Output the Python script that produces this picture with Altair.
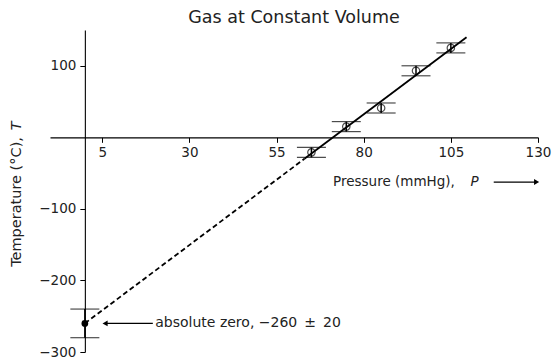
import altair as alt
import pandas as pd

# ---- data ----
pressure = [65, 75, 85, 95, 105]
temperature = [-21, 15, 41, 93, 125]
temp_err = [7, 7, 7, 7, 7]

zero_p = [0]
zero_t = [-260]
zero_err = [20]

fit_solid_p = [63, 109.5]
fit_solid_t = [-30, 140]
fit_dash_p = [0, 63]
fit_dash_t = [-260, -30]

x_ticks = [5, 30, 55, 80, 105, 130]
y_ticks = [-300, -200, -100, 100]
x_domain = [-10, 130]
y_domain = [-300, 150]

# annotation anchors (data coordinates)
zero_label_p = [20.2]
zero_arrow_p = [5.8, 19.5]
xlabel_p = [71.2, 110.6]
xlabel_t = [-62.5]
xarrow_p = [117.3, 129.6]
ylabel_p = [-19.6]
ylabel_t = [-181, 10]

W, H = 488, 322
FONT = "DejaVu Sans"

x0_px = (0 - x_domain[0]) / (x_domain[1] - x_domain[0]) * W
y0_px = (y_domain[1] - 0) / (y_domain[1] - y_domain[0]) * H

xs = alt.Scale(domain=x_domain, nice=False, zero=False)
ys = alt.Scale(domain=y_domain, nice=False, zero=False)

x_axis = alt.Axis(values=x_ticks, title=None, offset=-(H - y0_px), grid=False,
                  domainColor="black", domainWidth=1.1, tickColor="black",
                  tickSize=5, tickWidth=1, labelFont=FONT, labelFontSize=13.5,
                  labelColor="#222", labelPadding=3, labelFlush=False,
                  labelOverlap=False)
y_axis = alt.Axis(values=y_ticks, title=None, offset=-x0_px, grid=False,
                  domainColor="black", domainWidth=1.1, tickColor="black",
                  tickSize=5, tickWidth=1, labelFont=FONT, labelFontSize=13.5,
                  labelColor="#222", labelPadding=4, labelFlush=False,
                  labelOverlap=False)


def X(f):
    return alt.X(f, type="quantitative", scale=xs, axis=x_axis)


def Y(f):
    return alt.Y(f, type="quantitative", scale=ys, axis=y_axis)


pts = pd.DataFrame({"P": pressure, "T": temperature, "e": temp_err})
pts["lo"] = pts["T"] - pts["e"]
pts["hi"] = pts["T"] + pts["e"]
zero = pd.DataFrame({"P": zero_p, "T": zero_t, "e": zero_err})
zero["lo"] = zero["T"] - zero["e"]
zero["hi"] = zero["T"] + zero["e"]
allerr = pd.concat([pts, zero], ignore_index=True)
caps = pd.concat([
    allerr[["P", "lo"]].rename(columns={"lo": "c"}),
    allerr[["P", "hi"]].rename(columns={"hi": "c"}),
], ignore_index=True)

solid = pd.DataFrame({"P": fit_solid_p, "T": fit_solid_t})
dash = pd.DataFrame({"P": fit_dash_p, "T": fit_dash_t})

base_axes = alt.Chart(caps).mark_tick(orient="horizontal", size=29, thickness=1.2,
                                      color="black").encode(x=X("P"), y=Y("c"))

stems = alt.Chart(allerr).mark_rule(color="black", strokeWidth=1.5).encode(
    x=X("P"), y=Y("lo"), y2="hi")

solid_line = alt.Chart(solid).mark_line(color="black", strokeWidth=1.8).encode(
    x=X("P"), y=Y("T"))
dash_line = alt.Chart(dash).mark_line(color="black", strokeWidth=1.8,
                                      strokeDash=[5, 3]).encode(x=X("P"), y=Y("T"))

points = alt.Chart(pts).mark_point(shape="circle", size=55, filled=False,
                                   color="black", strokeWidth=1.2).encode(
    x=X("P"), y=Y("T"))
zero_pt = alt.Chart(zero).mark_circle(size=45, color="black", opacity=1).encode(
    x=X("P"), y=Y("T"))

# annotation: absolute zero
ann_df = pd.DataFrame({"p1": [zero_arrow_p[0]], "p2": [zero_arrow_p[1]],
                       "t": zero_t, "lp": zero_label_p,
                       "txt": ["absolute zero, \u2212260\u2002\u00b1\u200220"]})
zero_arrow = alt.Chart(ann_df).mark_rule(color="black", strokeWidth=1.3).encode(
    x=X("p1"), x2="p2", y=Y("t"))
zero_head = alt.Chart(ann_df).mark_point(shape="triangle-left", filled=True, size=35,
                                         color="black", opacity=1).encode(
    x=X("p1"), y=Y("t"))
zero_text = alt.Chart(ann_df).mark_text(align="left", baseline="middle", font=FONT,
                                        fontSize=14, color="#222").encode(
    x=X("lp"), y=Y("t"), text="txt:N")

# x axis title with arrow
xl_df = pd.DataFrame({"p": [xlabel_p[0]], "t": xlabel_t, "txt": ["Pressure (mmHg),"]})
xl_it = pd.DataFrame({"p": [xlabel_p[1]], "t": xlabel_t, "txt": ["P"]})
xlab = alt.Chart(xl_df).mark_text(align="left", baseline="middle", font=FONT,
                                  fontSize=13.5, color="#222").encode(
    x=X("p"), y=Y("t"), text="txt:N")
xlab_it = alt.Chart(xl_it).mark_text(align="left", baseline="middle", font=FONT,
                                     fontSize=13.5, fontStyle="italic",
                                     color="#222").encode(
    x=X("p"), y=Y("t"), text="txt:N")
xa_df = pd.DataFrame({"p1": [xarrow_p[0]], "p2": [xarrow_p[1]], "t": xlabel_t})
xarrow = alt.Chart(xa_df).mark_rule(color="black", strokeWidth=1.3).encode(
    x=X("p1"), x2="p2", y=Y("t"))
xhead = alt.Chart(xa_df).mark_point(shape="triangle-right", filled=True, size=35,
                                    color="black", opacity=1).encode(
    x=X("p2"), y=Y("t"))

# y axis title (rotated)
yl_df = pd.DataFrame({"p": ylabel_p, "t": [ylabel_t[0]], "txt": ["Temperature (\u00b0C),"]})
yl_it = pd.DataFrame({"p": ylabel_p, "t": [ylabel_t[1]], "txt": ["T"]})
ylab = alt.Chart(yl_df).mark_text(align="left", baseline="middle", angle=270, font=FONT,
                                  fontSize=14.5, color="#222").encode(
    x=X("p"), y=Y("t"), text="txt:N")
ylab_it = alt.Chart(yl_it).mark_text(align="left", baseline="middle", angle=270,
                                     font=FONT, fontSize=14.5, fontStyle="italic",
                                     color="#222").encode(
    x=X("p"), y=Y("t"), text="txt:N")

title = alt.Chart(pd.DataFrame({"txt": ["Gas at Constant Volume"]})).mark_text(
    align="center", baseline="alphabetic", font=FONT, fontSize=17.5, color="#222").encode(
    x=alt.value(W / 2), y=alt.value(-7), text="txt:N")

chart = alt.layer(
    base_axes, stems, dash_line, solid_line, points, zero_pt,
    zero_arrow, zero_head, zero_text, xlab, xlab_it, xarrow, xhead,
    ylab, ylab_it, title,
).properties(
    width=W, height=H,
    autosize=alt.AutoSizeParams(type="none"),
    padding={"left": 42, "top": 22, "right": 14, "bottom": 8},
    background="white",
).configure_view(stroke=None)

chart.save("out.html", embed_options={"renderer": "svg", "actions": False})
